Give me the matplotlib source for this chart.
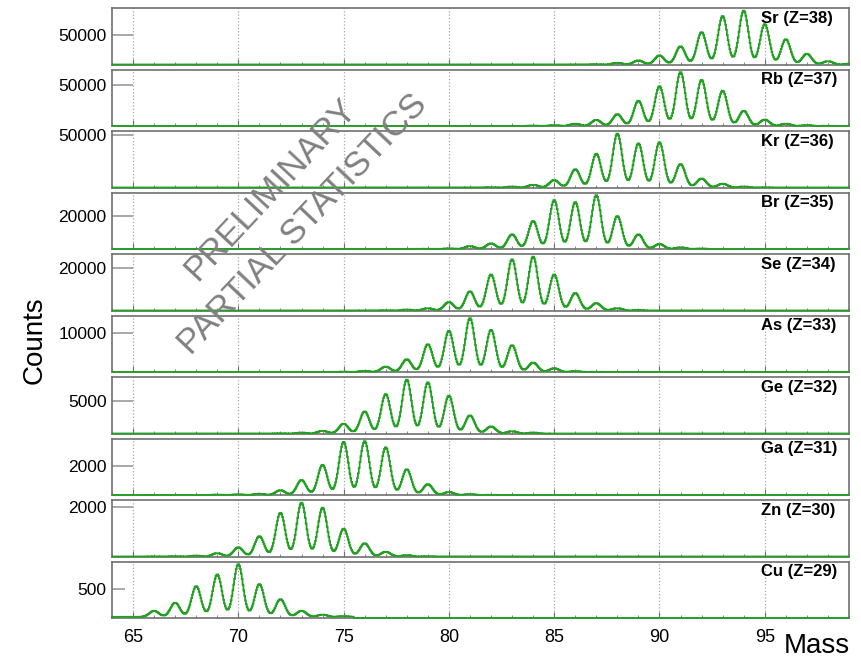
import numpy as np
import matplotlib.pyplot as plt

plt.rcParams['font.family'] = ['Liberation Sans', 'DejaVu Sans']

# peak height (counts) of each mass line, consecutive masses from first_mass
sr_counts = [300, 800, 2900, 6900, 15500, 31000, 55200, 82800, 92000, 69000, 43100, 18400, 5700, 1500]
rb_counts = [600, 1250, 2900, 7500, 14600, 31250, 49200, 66700, 57100, 43750, 18750, 7900, 2900, 1250, 400]
kr_counts = [200, 400, 980, 2600, 7000, 17300, 32000, 51000, 41800, 42800, 22200, 8500, 3600, 1000, 300]
br_counts = [100, 200, 400, 1800, 3400, 8900, 17000, 29700, 28500, 32700, 20000, 8900, 3000, 1000, 300]
se_counts = [100, 200, 500, 1100, 4000, 9100, 17100, 24300, 25600, 17100, 8300, 3500, 1100, 300, 100]
as_counts = [100, 300, 1370, 3240, 7080, 10500, 13740, 10750, 6830, 2390, 940, 250, 80]
ge_counts = [60, 150, 420, 1510, 3430, 6130, 8380, 7960, 5880, 2810, 1090, 360, 156]
ga_counts = [30, 50, 90, 330, 1040, 2100, 3700, 3750, 3320, 1790, 750, 210, 70, 20]
zn_counts = [10, 20, 40, 138, 373, 828, 1780, 2194, 1987, 1131, 538, 193, 55, 20]
cu_counts = [0, 0, 105, 246, 535, 739, 919, 571, 308, 106, 39, 15]

elements = ['Sr', 'Rb', 'Kr', 'Br', 'Se', 'As', 'Ge', 'Ga', 'Zn', 'Cu']
charges = [38, 37, 36, 35, 34, 33, 32, 31, 30, 29]
first_mass = [86, 84, 81, 78, 76, 75, 72, 69, 66, 64]
all_counts = [sr_counts, rb_counts, kr_counts, br_counts, se_counts,
              as_counts, ge_counts, ga_counts, zn_counts, cu_counts]
flat_background = [0, 0, 0, 0, 0, 0, 0, 0, 0, 20]
y_ticks = [50000, 50000, 50000, 20000, 20000, 10000, 5000, 2000, 2000, 500]

mass_range = (64, 99)
peak_sigma = 0.22
bin_width = 0.04

edges = np.arange(mass_range[0], mass_range[1] + bin_width / 2, bin_width)
centers = 0.5 * (edges[:-1] + edges[1:])

W, H = 861, 659
fig = plt.figure(figsize=(W / 100, H / 100), dpi=100)

left_px, right_px = 112, 849
top_px, pitch_px, height_px = 8, 61.5, 56.5
line_col = '#23a023'
frame_col = '#707070'

axes = []
for i, (el, z, m0, counts, bkg, tick) in enumerate(zip(
        elements, charges, first_mass, all_counts, flat_background, y_ticks)):
    y0 = top_px + i * pitch_px
    ax = fig.add_axes([left_px / W, 1 - (y0 + height_px) / H,
                       (right_px - left_px) / W, height_px / H])
    axes.append(ax)

    masses = m0 + np.arange(len(counts))
    hist = np.zeros_like(centers)
    inside = (centers > masses[0] - 0.5) & (centers < masses[-1] + 0.5)
    hist[inside] += bkg
    for m, c in zip(masses, counts):
        hist += c * np.exp(-0.5 * ((centers - m) / peak_sigma) ** 2)

    ax.stairs(hist, edges, color=line_col, lw=1.3, clip_on=False, zorder=3)
    ax.set_xlim(*mass_range)
    ax.set_ylim(0, 1.05 * hist.max())

    ax.set_xticks(range(65, 99, 5))
    ax.set_xticks(range(64, 100), minor=True)
    ax.grid(axis='x', which='major', linestyle=':', color='#a8a8a8', lw=0.9)
    ax.tick_params(axis='x', which='major', direction='in', length=4,
                   color=frame_col, labelsize=13, pad=8)
    ax.tick_params(axis='x', which='minor', direction='in', length=2.5,
                   color=frame_col)
    if i < len(elements) - 1:
        ax.tick_params(axis='x', which='both', labelbottom=False)

    ax.set_yticks([tick])
    ax.set_yticklabels([str(tick)])
    ax.tick_params(axis='y', direction='in', length=9 if tick == 500 else 15,
                   width=1.2, color='#999999', labelsize=12.5, pad=4)

    for s in ax.spines.values():
        s.set_color(frame_col)
        s.set_linewidth(1.2)

    ax.text(0.881, 0.95, f'{el} (Z={z})', transform=ax.transAxes,
            ha='left', va='top', fontsize=12, fontweight='bold')

fig.text(35 / W, 1 - 340 / H, 'Counts', rotation=90, ha='center',
         va='center', fontsize=20)
fig.text(850 / W, 1 - 646 / H, 'Mass', ha='right', va='center', fontsize=20)

wm = dict(ha='center', va='center', fontsize=25, color='#808080',
          rotation_mode='anchor')
fig.text(270 / W, 1 - 190 / H, 'PRELIMINARY', rotation=47, **wm)
fig.text(303 / W, 1 - 224 / H, 'PARTIAL STATISTICS', rotation=46.5, **wm)

fig.savefig('out.png', dpi=100)
